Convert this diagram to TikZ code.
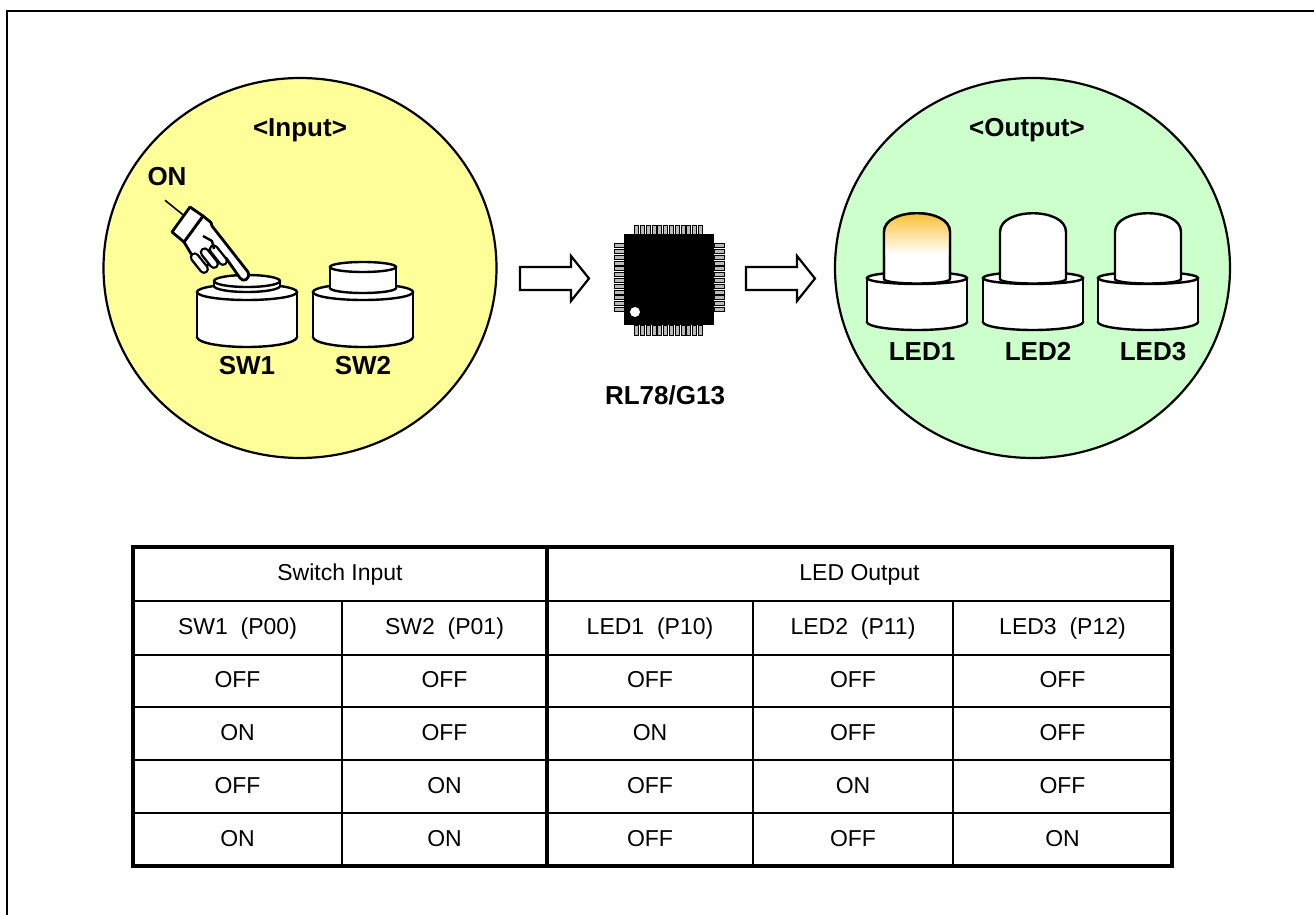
\documentclass[tikz,border=0pt]{standalone}
\usepackage{fontspec}
\setmainfont{Liberation Sans}
\usepackage{xcolor}
\usetikzlibrary{positioning}
\usetikzlibrary{shapes.geometric}
\definecolor{inputyellow}{RGB}{255,255,153}
\definecolor{outputgreen}{RGB}{204,255,204}
\definecolor{ledglow}{RGB}{248,184,24}
% centre x, top y, bottom y, radius x, top radius y, bottom radius y
\newcommand{\cylinder}[6]{%
  \filldraw[part] (#1,#3) ellipse ({#4} and {#6});
  \fill[white] (#1-#4,#2) rectangle (#1+#4,#3);
  \draw[outline] (#1-#4,#2) -- (#1-#4,#3) (#1+#4,#2) -- (#1+#4,#3);
  \filldraw[part] (#1,#2) ellipse ({#4} and {#5});}

\begin{document}
\begin{tikzpicture}[x=0.5pt,y=-0.5pt,
    lbl/.style={font=\fontsize{13}{15.6}\selectfont\bfseries},
    cell/.style={font=\fontsize{11.5}{13.8}\selectfont, text height=1.5ex, text depth=.25ex},
    outline/.style={draw=black, line width=1.2pt},
    part/.style={outline, fill=white},
    rule/.style={line width=1.1pt},
    heavyrule/.style={line width=2pt},
    pin/.style={fill=gray!55, draw=black, line width=0.25pt}]
  \useasboundingbox (0,0) rectangle (1314,915);
  % frame
  \draw[line width=1.3pt] (7,915) -- (7,11) -- (1314,11);
  % input and output circles
  \node (input) [ellipse, draw, line width=1.1pt, fill=inputyellow, inner sep=0pt,
    minimum width=196.5pt, minimum height=190pt] at (300,268) {};
  \node (output) [ellipse, draw, line width=1.1pt, fill=outputgreen, inner sep=0pt,
    minimum width=197.5pt, minimum height=190pt] at (1032.5,268) {};
  \node[lbl] (inlabel) at (300,130) {<Input>};
  \node[lbl] (outlabel) at (1027,130) {<Output>};
  % switches
  \node[lbl] (on) at (167,177) {ON};
  \coordinate (cuff) at (187,218);
  \draw[line width=0.8pt] ([xshift=-1pt,yshift=-3.5pt]on.south) -- (cuff);
  \cylinder{247}{292}{337}{50}{8}{10}
  \cylinder{247}{281}{286}{33}{6}{6}
  \cylinder{363}{292}{337}{50}{8}{10}
  \cylinder{363}{267}{288}{33}{5}{5}
  \node[lbl] (sw1) at (247,366) {SW1};
  \node[lbl] (sw2) at (363,366) {SW2};
  % hand pressing SW1
  \filldraw[part, line width=1.4pt, line join=round] (184,242) -- (203,216) -- (208,220)
    .. controls (211,222) .. (212,226) -- (248,272)
    .. controls (251,279) and (243,283) .. (240,278) -- (226,258) -- (200,268) -- (190,252) -- cycle;
  \foreach \fx/\fy in {194.7/257.3, 204.7/252.3, 213.7/249.3}
    \draw[double=white, double distance=2.6pt, line width=1.2pt, line cap=round]
      (\fx,\fy) -- ++(9.3,11.7);
  \draw[line width=1.2pt, line join=round] (203,236) -- (212,241) -- (214,249);
  \filldraw[part, line width=1.4pt, line join=round] (172,232) -- (190,207) -- (203,216) -- (184,242) -- cycle;
  % block arrows
  \foreach \ax in {520,746}
    \draw[line width=1.1pt, fill=white] (\ax,267) -- ++(51,0) -- ++(0,-11) -- ++(18,22.5)
      -- ++(-18,22.5) -- ++(0,-11) -- ++(-51,0) -- cycle;
  % microcontroller
  \foreach \i in {0,...,11} {
    \filldraw[pin] (634.5+5.8*\i,225) rectangle ++(4,9);
    \filldraw[pin] (634.5+5.8*\i,325) rectangle ++(4,10);
    \filldraw[pin] (614,243.5+5.8*\i) rectangle ++(10,4);
    \filldraw[pin] (714,243.5+5.8*\i) rectangle ++(10,4);
  }
  \node (mcu) [fill=black, inner sep=0pt, minimum width=45pt, minimum height=45.5pt] at (669,279.5) {};
  \fill[white] (635,312) circle (5);
  \node[lbl] (mculabel) at (665,395) {RL78/G13};
  % LEDs
  \foreach \cx/\n in {917/1, 1033/2, 1148/3} {
    \cylinder{\cx}{278}{322}{50}{6}{8}
    \filldraw[part] (\cx-33,279) -- (\cx-33,232) .. controls (\cx-33,207) and (\cx+33,207) .. (\cx+33,232)
      -- (\cx+33,279) .. controls (\cx+33,285) and (\cx-33,285) .. (\cx-33,279) -- cycle;
    \node[lbl, text height=1.55ex, text depth=0pt] (led\n) at (\cx+5,352) {LED\n};
  }
  % LED1 is lit
  \begin{scope}
    \clip (884,279) -- (884,232) .. controls (884,207) and (950,207) .. (950,232) -- (950,279) -- cycle;
    \shade[top color=ledglow, bottom color=white] (880,208) rectangle (954,254);
  \end{scope}
  \draw[outline] (884,279) -- (884,232) .. controls (884,207) and (950,207) .. (950,232) -- (950,279);
  % table
  \draw[rule] (133,601) -- (1172,601);
  \foreach \y in {655,707,760,813} \draw[rule] (133,\y) -- (1172,\y);
  \foreach \x in {342,753,953} \draw[rule] (\x,601) -- (\x,866);
  \draw[heavyrule] (547,547) -- (547,866);
  \draw[heavyrule] (133,547) rectangle (1172,866);
  \node[cell] (hdrsw) at (340,574) {Switch Input};
  \node[cell] (hdrled) at (859.5,574) {LED Output};
  \node[cell] (pinsw1) at (237.5,628) {SW1~ (P00)};
  \node[cell] (pinsw2) at (444.5,628) {SW2~ (P01)};
  \node[cell] (pinled1) at (650,628) {LED1~ (P10)};
  \node[cell] (pinled2) at (853,628) {LED2~ (P11)};
  \node[cell] (pinled3) at (1062.5,628) {LED3~ (P12)};
  \foreach \r/\y/\a/\b/\c/\d/\e in {1/681/OFF/OFF/OFF/OFF/OFF, 2/733.5/ON/OFF/ON/OFF/OFF,
      3/786.5/OFF/ON/OFF/ON/OFF, 4/839.5/ON/ON/OFF/OFF/ON} {
    \node[cell] (row\r-1) at (237.5,\y) {\a};
    \node[cell] (row\r-2) at (444.5,\y) {\b};
    \node[cell] (row\r-3) at (650,\y) {\c};
    \node[cell] (row\r-4) at (853,\y) {\d};
    \node[cell] (row\r-5) at (1062.5,\y) {\e};
  }
\end{tikzpicture}
\end{document}
